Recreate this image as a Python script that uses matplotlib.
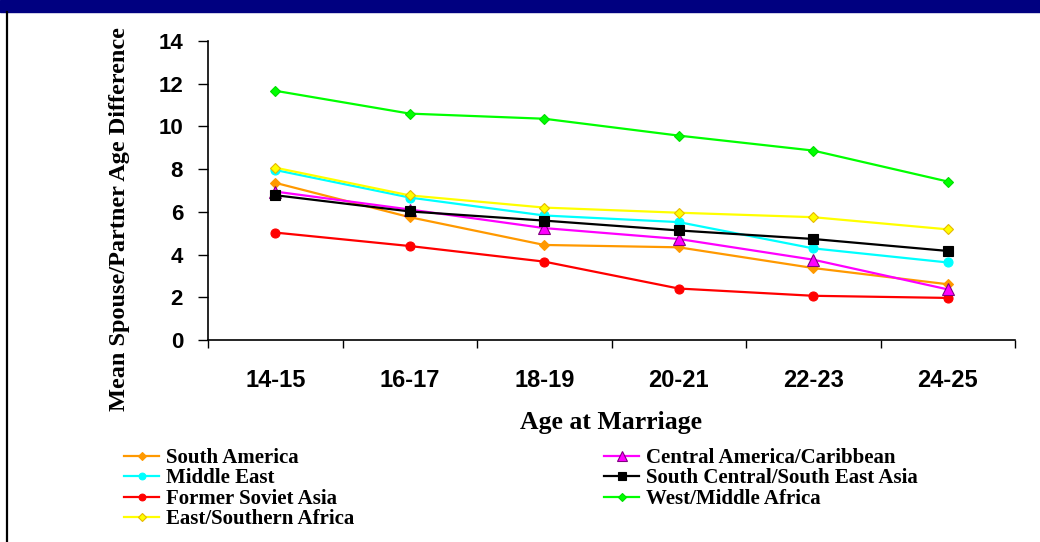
import numpy as np
import matplotlib.pyplot as plt
from matplotlib.patches import Rectangle
from matplotlib.lines import Line2D

# Age groups along the x axis
ages = ['14-15', '16-17', '18-19', '20-21', '22-23', '24-25']

# Mean spouse/partner age difference by region
south_america = [7.36, 5.75, 4.45, 4.34, 3.37, 2.61]
central_america = [6.95, 6.11, 5.24, 4.73, 3.76, 2.37]
middle_east = [7.96, 6.67, 5.83, 5.52, 4.29, 3.63]
south_central_asia = [6.78, 6.02, 5.59, 5.13, 4.73, 4.17]
former_soviet_asia = [5.03, 4.40, 3.67, 2.41, 2.07, 1.97]
west_middle_africa = [11.67, 10.60, 10.36, 9.57, 8.87, 7.42]
east_southern_africa = [8.07, 6.77, 6.20, 5.96, 5.75, 5.18]

serif = 'Liberation Serif'
sans = 'Liberation Sans'

fig = plt.figure(figsize=(10.4, 5.42), dpi=100)

# navy strip across the top and the black rule down the left
fig.patches.append(Rectangle((0, 1 - 12 / 542), 1, 12 / 542, transform=fig.transFigure,
                             color='#000080', zorder=0))
fig.add_artist(Line2D([7 / 1040, 7 / 1040], [0, 1 - 12 / 542], transform=fig.transFigure,
                      color='black', lw=1.6))

ax = fig.add_axes([208 / 1040, 1 - 340 / 542, 807 / 1040, 299 / 542])
x = np.arange(len(ages))

series = [
    ('South America', south_america, '#FF9900', 'D', 5, '#FF9900'),
    ('Middle East', middle_east, '#00FFFF', 'o', 6.5, '#00FFFF'),
    ('Former Soviet Asia', former_soviet_asia, '#FF0000', 'o', 6.5, '#FF0000'),
    ('East/Southern Africa', east_southern_africa, '#FFFF00', 'D', 5.5, '#E6B800'),
    ('Central America/Caribbean', central_america, '#FF00FF', '^', 9, '#800080'),
    ('South Central/South East Asia', south_central_asia, '#000000', 's', 7, '#000000'),
    ('West/Middle Africa', west_middle_africa, '#00FF00', 'D', 5, '#00DD00'),
]

handles = []
for name, vals, col, mk, ms, edge in series:
    h, = ax.plot(x, vals, color=col, lw=1.6, marker=mk, markersize=ms,
                 markerfacecolor=col, markeredgecolor=edge, markeredgewidth=0.8,
                 label=name)
    handles.append(h)

ax.set_xlim(-0.5, len(ages) - 0.5)
ax.set_ylim(0, 14)

ax.spines['top'].set_visible(False)
ax.spines['right'].set_visible(False)
ax.spines['left'].set_linewidth(1.2)
ax.spines['bottom'].set_linewidth(1.2)

ax.set_yticks(np.arange(0, 15, 2))
ax.tick_params(axis='y', direction='out', length=7, width=1, pad=11,
               labelsize=16)
for lab in ax.get_yticklabels():
    lab.set_fontfamily(sans)
    lab.set_fontweight('bold')

# tick marks sit between groups, labels at the group centres
ax.set_xticks(np.arange(-0.5, len(ages), 1))
ax.set_xticklabels([])
ax.tick_params(axis='x', which='major', direction='out', length=6, width=1)
ax.set_xticks(x, minor=True)
ax.set_xticklabels(ages, minor=True)
ax.tick_params(axis='x', which='minor', length=0, pad=21, labelsize=17)
for lab in ax.get_xticklabels(minor=True):
    lab.set_fontfamily(sans)
    lab.set_fontweight('bold')

fig.text(119 / 1040, 1 - 219 / 542, 'Mean Spouse/Partner Age Difference', rotation=90,
         ha='center', va='center', fontsize=17.5, fontweight='bold', family=serif)
fig.text(611 / 1040, 1 - 423 / 542, 'Age at Marriage', ha='center', va='center',
         fontsize=18.5, fontweight='bold', family=serif)

fig.legend(handles=handles, loc='upper left', bbox_to_anchor=(124 / 1040, 1 - 448 / 542),
           ncol=2, frameon=False, prop={'family': serif, 'weight': 'bold', 'size': 15},
           handlelength=1.7, handletextpad=0.3, labelspacing=0.02, columnspacing=12,
           borderaxespad=0, borderpad=0, markerscale=0.75)

fig.savefig('out.png', dpi=100)
